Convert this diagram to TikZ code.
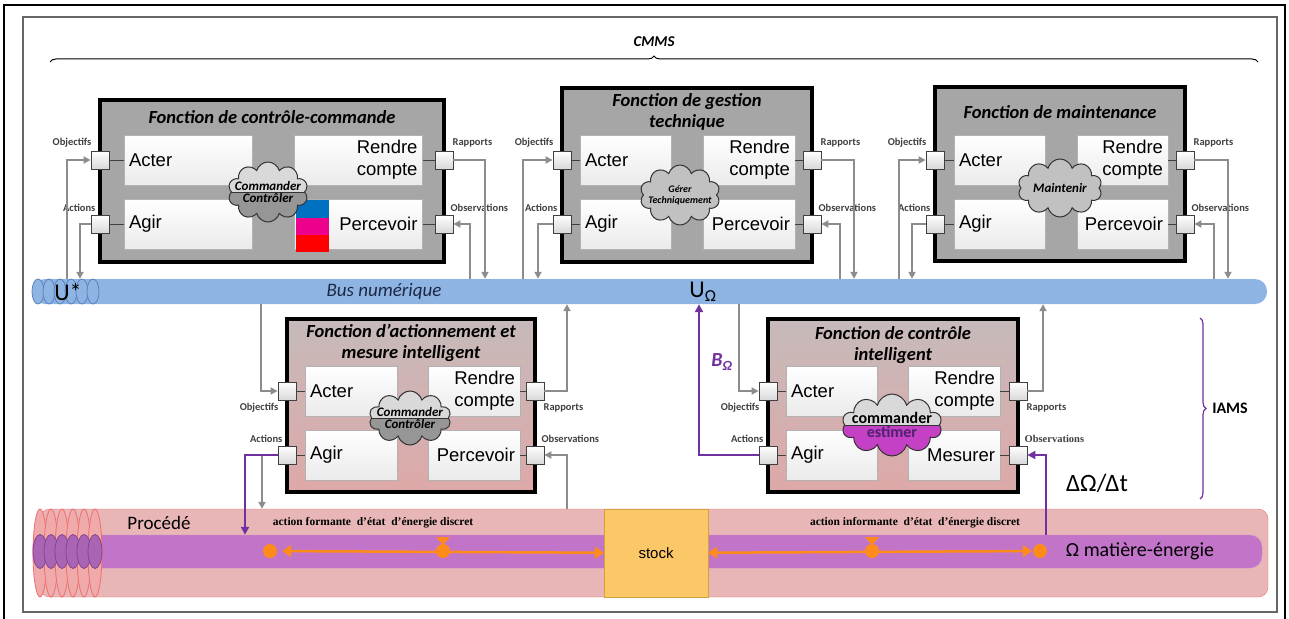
\documentclass[tikz,border=0pt]{standalone}
\usepackage{fontspec}
\setmainfont{Liberation Sans}
\newfontfamily\calib{Carlito}
\newfontfamily\tms{Liberation Serif}
\usepackage{tikz}
\usetikzlibrary{arrows.meta,calc,positioning,shapes.symbols,decorations.pathreplacing}
\definecolor{boxgrey}{RGB}{166,166,166}
\definecolor{portgrey}{RGB}{140,140,140}
\definecolor{busblue}{RGB}{141,180,226}
\definecolor{busedge}{RGB}{90,130,190}
\definecolor{rosetop}{RGB}{198,186,186}
\definecolor{rosebot}{RGB}{222,168,168}
\definecolor{procpink}{RGB}{232,182,182}
\definecolor{procring}{RGB}{240,170,170}
\definecolor{procred}{RGB}{238,110,110}
\definecolor{flowviolet}{RGB}{193,116,200}
\definecolor{flowring}{RGB}{170,100,180}
\definecolor{flowedge}{RGB}{130,70,145}
\definecolor{stockyellow}{RGB}{252,199,102}
\definecolor{stockedge}{RGB}{210,160,60}
\definecolor{orangeflow}{RGB}{255,140,26}
\definecolor{linkviolet}{RGB}{112,48,160}
\definecolor{cloudlight}{RGB}{217,217,217}
\definecolor{clouddark}{RGB}{150,150,150}
\definecolor{cloudmag}{RGB}{196,64,196}
\definecolor{navytext}{RGB}{30,40,70}
\definecolor{carreblue}{RGB}{0,112,192}
\tikzset{
  fonction/.style={
    draw=black,
    line width=3.5pt,
    fill=boxgrey,
    inner sep=0pt
  },
  fonctionrose/.style={
    fonction,
    top color=rosetop,
    bottom color=rosebot
  },
  titre/.style={
    align=center,
    inner sep=0pt,
    font=\calib\bfseries\itshape\fontsize{18.5}{20.5}\selectfont
  },
  cellule/.style={
    draw=black!30,
    line width=0.6pt,
    top color=white,
    bottom color=black!8,
    minimum height=50pt,
    inner sep=5pt,
    font=\fontsize{18.5}{22}\selectfont
  },
  port/.style={
    draw=black!75,
    line width=0.8pt,
    top color=white,
    bottom color=black!15,
    minimum size=18pt,
    inner sep=0pt
  },
  etiq/.style={
    inner sep=0pt,
    text=black!75,
    font=\calib\bfseries\fontsize{10.5}{12}\selectfont
  },
  nuage/.style={
    cloud,
    cloud puffs=10,
    cloud ignores aspect,
    draw=black!80,
    line width=1pt,
    inner sep=0pt
  },
  moitie/.style={
    path picture={
      \fill[#1] (path picture bounding box.west) rectangle (path picture bounding box.south east);
      \draw[black!80,line width=1pt] (path picture bounding box.west) -- (path picture bounding box.east);
    }
  },
  nuagetxt/.style={
    inner sep=1pt,
    font=\calib\bfseries\itshape\fontsize{13}{14}\selectfont
  },
  fil/.style={
    draw=portgrey,
    line width=1.8pt,
    -{Triangle[length=7pt,width=7pt]}
  },
  lien/.style={
    draw=black!75,
    line width=1pt
  },
  lienv/.style={
    draw=linkviolet,
    line width=2pt,
    -{Triangle[length=8pt,width=8pt]}
  },
  flux/.style={
    draw=orangeflow,
    line width=2.5pt,
    {Triangle[length=9pt,width=12pt]}-{Triangle[length=9pt,width=12pt]}
  },
  point/.style={
    circle,
    fill=orangeflow,
    minimum size=14pt,
    inner sep=0pt
  }
}

\begin{document}
\begin{tikzpicture}[x=1pt,y=-1pt]
\useasboundingbox (0,0) rectangle (1289,618);
\draw[line width=2.5pt] (4,5) rectangle (1285,640);
\draw[black!60,line width=1.5pt] (23,17) rectangle (1277,612);
\draw[decorate,decoration={brace,amplitude=6pt},line width=1pt] (50,62) -- (1258,62);
\node[font=\calib\bfseries\itshape\fontsize{15}{17}\selectfont] (cmms) at (654,42) {CMMS};

% fonctions du haut
\node[fonction,minimum width=344pt,minimum height=162pt] (f1) at (272,181) {};
\node[titre] (t1) at (272,117) {Fonction de contrôle-commande};
\node[cellule,text width=118pt,align=left] (acter1) at (188,160) {Acter};
\node[cellule,text width=118pt,align=right] (rendre1) at (358.5,160) {Rendre\\compte};
\node[cellule,text width=118pt,align=left] (agir1) at (188,224) {Agir};
\node[cellule,text width=118pt,align=right] (perc1) at (358.5,224) {Percevoir};
\fill[carreblue] (296,200) rectangle (329,218);
\fill[magenta] (296,218) rectangle (329,235);
\fill[red] (296,235) rectangle (329,252);

\node[fonction,minimum width=250pt,minimum height=174pt] (f2) at (687,175) {};
\node[titre] (t2) at (687,112) {Fonction de gestion\\technique};
\node[cellule,text width=81pt,align=left] (acter2) at (625.5,160) {Acter};
\node[cellule,text width=82pt,align=right] (rendre2) at (749,160) {Rendre\\compte};
\node[cellule,text width=81pt,align=left] (agir2) at (625.5,224) {Agir};
\node[cellule,text width=82pt,align=right] (perc2) at (749,224) {Percevoir};

\node[fonction,minimum width=250pt,minimum height=174pt] (f3) at (1060,174) {};
\node[titre] (t3) at (1060,112) {Fonction de maintenance};
\node[cellule,text width=81pt,align=left] (acter3) at (999.5,160) {Acter};
\node[cellule,text width=81pt,align=right] (rendre3) at (1122.5,160) {Rendre\\compte};
\node[cellule,text width=81pt,align=left] (agir3) at (999.5,224) {Agir};
\node[cellule,text width=81pt,align=right] (perc3) at (1122.5,224) {Percevoir};

% fonctions du bas
\node[fonctionrose,minimum width=248pt,minimum height=173pt] (f4) at (411,405.5) {};
\node[titre] (t4) at (411,343) {Fonction d’actionnement et\\mesure intelligent};
\node[cellule,text width=82pt,align=left] (acter4) at (351,391) {Acter};
\node[cellule,text width=82pt,align=right] (rendre4) at (474,391) {Rendre\\compte};
\node[cellule,text width=82pt,align=left] (agir4) at (351,455) {Agir};
\node[cellule,text width=82pt,align=right] (perc4) at (474,455) {Percevoir};

\node[fonctionrose,minimum width=250pt,minimum height=173pt] (f5) at (893,405.5) {};
\node[titre] (t5) at (893,345) {Fonction de contrôle\\intelligent};
\node[cellule,text width=81pt,align=left] (acter5) at (831.5,391) {Acter};
\node[cellule,text width=82pt,align=right] (rendre5) at (954,391) {Rendre\\compte};
\node[cellule,text width=81pt,align=left] (agir5) at (831.5,455) {Agir};
\node[cellule,text width=82pt,align=right] (perc5) at (954,455) {Mesurer};

% ports
\node[port] (obj1) at (100,160) {};
\node[port] (act1) at (100,224) {};
\node[port] (rap1) at (444,160) {};
\node[port] (obs1) at (444,224) {};
\node[port] (obj2) at (562,160) {};
\node[port] (act2) at (562,224) {};
\node[port] (rap2) at (812,160) {};
\node[port] (obs2) at (812,224) {};
\node[port] (obj3) at (935,160) {};
\node[port] (act3) at (935,224) {};
\node[port] (rap3) at (1185,160) {};
\node[port] (obs3) at (1185,224) {};
\node[port] (obj4) at (287,391) {};
\node[port] (act4) at (287,455) {};
\node[port] (rap4) at (535,391) {};
\node[port] (obs4) at (535,455) {};
\node[port] (obj5) at (768,391) {};
\node[port] (act5) at (768,455) {};
\node[port] (rap5) at (1018,391) {};
\node[port] (obs5) at (1018,455) {};
\foreach \n in {1,...,5}{
  \draw[lien] (obj\n) -- (acter\n);
  \draw[lien] (act\n) -- (agir\n);
  \draw[lien] (rap\n) -- (rendre\n);
  \draw[lien] (obs\n) -- (perc\n);
}
\foreach \n in {1,2,3}{
  \node[etiq,above left=3pt and -1pt of obj\n.north west] (lobj\n) {Objectifs};
  \node[etiq,above left=3pt and -5pt of act\n.north west] (lact\n) {Actions};
  \node[etiq,above right=3pt and -1pt of rap\n.north east] (lrap\n) {Rapports};
  \node[etiq,above right=3pt and -3pt of obs\n.north east] (lobs\n) {Observations};
}
\foreach \n in {4,5}{
  \node[etiq,below left=3pt and -1pt of obj\n.south west] (lobj\n) {Objectifs};
  \node[etiq,above left=3pt and -5pt of act\n.north west] (lact\n) {Actions};
  \node[etiq,below right=3pt and -1pt of rap\n.south east] (lrap\n) {Rapports};
}
\node[etiq,above right=3pt and -3pt of obs4.north east] (lobs4) {Observations};
\node[etiq,above right=3pt and -3pt of obs5.north east,font=\tms\bfseries\fontsize{10.5}{12}\selectfont] (lobs5) {Observations};

% nuages
\node[nuage,fill=cloudlight,moitie=clouddark,minimum width=80pt,minimum height=60pt] (c1) at (268,192) {};
\node[nuagetxt,anchor=south] (c1a) at (c1.center) {Commander};
\node[nuagetxt,anchor=north] (c1b) at (c1.center) {Contrôler};
\node[nuage,fill=boxgrey!70,minimum width=80pt,minimum height=60pt] (c2) at (680,195) {};
\node[nuagetxt,align=center,font=\calib\bfseries\itshape\fontsize{10}{11}\selectfont] (c2a) at (c2.center) {Gérer\\Techniquement};
\node[nuage,fill=boxgrey!70,minimum width=84pt,minimum height=58pt] (c3) at (1060,188) {};
\node[nuagetxt] (c3a) at (c3.center) {Maintenir};
\node[nuage,fill=cloudlight,moitie=clouddark,minimum width=82pt,minimum height=54pt] (c4) at (410,418) {};
\node[nuagetxt,anchor=south] (c4a) at (c4.center) {Commander};
\node[nuagetxt,anchor=north] (c4b) at (c4.center) {Contrôler};
\node[nuage,fill=cloudlight,moitie=cloudmag,minimum width=100pt,minimum height=62pt] (c5) at (892,425) {};
\node[nuagetxt,anchor=south,font=\calib\bfseries\fontsize{16}{17}\selectfont] (c5a) at (c5.center) {commander};
\node[nuagetxt,anchor=north,text=linkviolet!70!black,font=\calib\bfseries\fontsize{16}{17}\selectfont] (c5b) at (c5.center) {estimer};

% bus
\node[fill=busblue,rounded corners=12pt,minimum width=1234pt,minimum height=25pt,inner sep=0pt] (bus) at (650,291.5) {};
\foreach \x in {38,49,...,93}
  \draw[fill=busblue,draw=busedge,line width=0.8pt] (\x,291.5) ellipse (6 and 12.5);
\node[font=\calib\fontsize{24}{26}\selectfont] (ustar) at (68,292) {U*};
\node[text=navytext,font=\calib\itshape\fontsize{19}{21}\selectfont] (busl) at (384,291) {Bus numérique};
\node[font=\calib\fontsize{24}{26}\selectfont] (uomega) at (703,292) {U\textsubscript{Ω}};

% procede
\node[fill=procpink,draw=procred,rounded corners=10pt,minimum width=1228pt,minimum height=88pt,inner sep=0pt] (proc) at (654,553) {};
\node[fill=flowviolet,draw=flowviolet!80!white,rounded corners=12pt,minimum width=1222pt,minimum height=33pt,inner sep=0pt] (flux) at (651,551.5) {};
\foreach \x in {40,51,...,95}
  \draw[fill=procring,draw=procred,line width=0.8pt] (\x,553) ellipse (7 and 44);
\foreach \x in {40,51,...,95}
  \draw[fill=flowring,draw=flowedge,line width=0.8pt] (\x,551.5) ellipse (7 and 17);
\node[font=\calib\fontsize{19}{21}\selectfont] (procl) at (159,523) {Procédé};
\node[font=\tms\bfseries\fontsize{11.5}{13}\selectfont] (formante) at (373,523) {action formante\ \ d’état\ \ d’énergie discret};
\node[font=\tms\bfseries\fontsize{11.5}{13}\selectfont] (informante) at (915,523) {action informante\ \ d’état\ \ d’énergie discret};
\node[fill=stockyellow,draw=stockedge,minimum width=104pt,minimum height=88pt,inner sep=0pt,font=\fontsize{15}{17}\selectfont] (stock) at (656,553) {stock};
\node[point] (d1) at (270,551) {};
\node[point] (d2) at (443,551) {};
\node[point] (d3) at (872,551) {};
\node[point] (d4) at (1040,551) {};
\draw[flux,shorten <=5pt] (d1) -- (stock);
\draw[flux,shorten >=1pt] (stock) -- (d4);
\fill[orangeflow] (436,537) -- (450,537) -- (443,545) -- cycle;
\fill[orangeflow] (865,537) -- (879,537) -- (872,545) -- cycle;
\node[font=\calib\fontsize{20}{22}\selectfont] (omega) at (1140,551) {Ω matière-énergie};

% liaisons haut
\draw[fil] (67,0 |- bus.north) |- (obj1);
\draw[fil] (act1) -| (80,0 |- bus.north);
\draw[fil] (rap1) -| (485,0 |- bus.north);
\draw[fil] (470,0 |- bus.north) |- (obs1);
\draw[fil] (523,0 |- bus.north) |- (obj2);
\draw[fil] (act2) -| (538,0 |- bus.north);
\draw[fil] (rap2) -| (854,0 |- bus.north);
\draw[fil] (840,0 |- bus.north) |- (obs2);
\draw[fil] (899,0 |- bus.north) |- (obj3);
\draw[fil] (act3) -| (912,0 |- bus.north);
\draw[fil] (rap3) -| (1228,0 |- bus.north);
\draw[fil] (1214,0 |- bus.north) |- (obs3);

% liaisons bas
\draw[fil] (261,0 |- bus.south) |- (obj4);
\draw[fil] (rap4) -| (567,0 |- bus.south);
\draw[fil] (act4) -| (262,0 |- proc.north);
\draw[fil] (567,0 |- proc.north) |- (obs4);
\draw[lienv] (act4) -| (245,0 |- flux.north);
\draw[fil] (739,0 |- bus.south) |- (obj5);
\draw[fil] (rap5) -| (1043,0 |- bus.south);
\draw[lienv] (act5) -| (699,0 |- bus.south);
\draw[lienv] (1046,0 |- flux.north) |- (obs5);
\node[text=linkviolet,font=\calib\bfseries\itshape\fontsize{20}{22}\selectfont] (bomega) at (722,362) {B\textsubscript{Ω}};
\node[font=\calib\fontsize{25}{27}\selectfont] (delta) at (1097,483) {ΔΩ/Δt};

\draw[decorate,decoration={brace,amplitude=6pt},draw=linkviolet,line width=1.2pt] (1200,318) -- (1200,499);
\node[font=\calib\bfseries\fontsize{16}{18}\selectfont] (iams) at (1230,408) {IAMS};
\end{tikzpicture}
\end{document}
